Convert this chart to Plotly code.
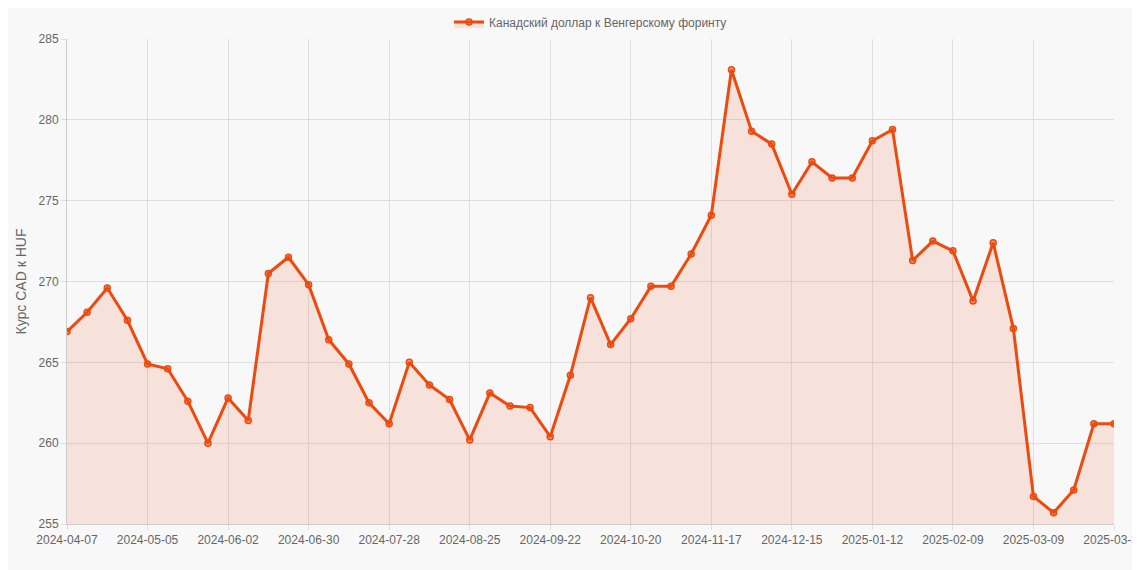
import plotly.graph_objects as go
import datetime as dt

start = dt.date(2024, 4, 7)
dates = [(start + dt.timedelta(weeks=i)).isoformat() for i in range(52)] + ["2025-03-31"]
values = [266.9, 268.1, 269.6, 267.6, 264.9, 264.6, 262.6, 260.0, 262.8, 261.4,
          270.5, 271.5, 269.8, 266.4, 264.9, 262.5, 261.2, 265.0, 263.6, 262.7,
          260.2, 263.1, 262.3, 262.2, 260.4, 264.2, 269.0, 266.1, 267.7, 269.7,
          269.7, 271.7, 274.1, 283.1, 279.3, 278.5, 275.4, 277.4, 276.4, 276.4,
          278.7, 279.4, 271.3, 272.5, 271.9, 268.8, 272.4, 267.1, 256.7, 255.7,
          257.1, 261.2, 261.2]
tick_labels = [dates[i] for i in range(0, 52, 4)] + ["2025-03-31"]

color = "#ec4a0e"
fig = go.Figure(go.Scatter(
    x=dates, y=values, mode="lines+markers", name="Канадский доллар к Венгерскому форинту",
    line=dict(color=color, width=3),
    marker=dict(size=6, color="rgba(236,74,14,0.5)", line=dict(color=color, width=1.5)),
    fill="tozeroy", fillcolor="rgba(236,74,14,0.12)"))
fig.update_layout(
    width=1140, height=570, paper_bgcolor="#f8f8f8", plot_bgcolor="#f8f8f8",
    margin=dict(l=59, r=34, t=31, b=54, autoexpand=False),
    font=dict(family="Arial, Liberation Sans", size=12, color="#666"),
    showlegend=True,
    legend=dict(orientation="h", x=0.5, xanchor="center", y=1.035, yanchor="middle", font=dict(size=12, color="#666")),
    xaxis=dict(type="category", tickvals=tick_labels, ticktext=tick_labels, showgrid=True, automargin=False,
               gridcolor="#dedede", linecolor="#ccc", ticks="outside", tickcolor="#ddd", ticklen=5, range=[0, 52]),
    yaxis=dict(range=[255, 285], dtick=5, gridcolor="#dedede", linecolor="#ccc", showline=True, automargin=False,
               title=dict(text="Курс CAD к HUF", font=dict(size=14, color="#666"), standoff=8),
               ticks="outside", tickcolor="#ddd", ticklen=5, zeroline=False),
)
fig.write_html("out.html")
